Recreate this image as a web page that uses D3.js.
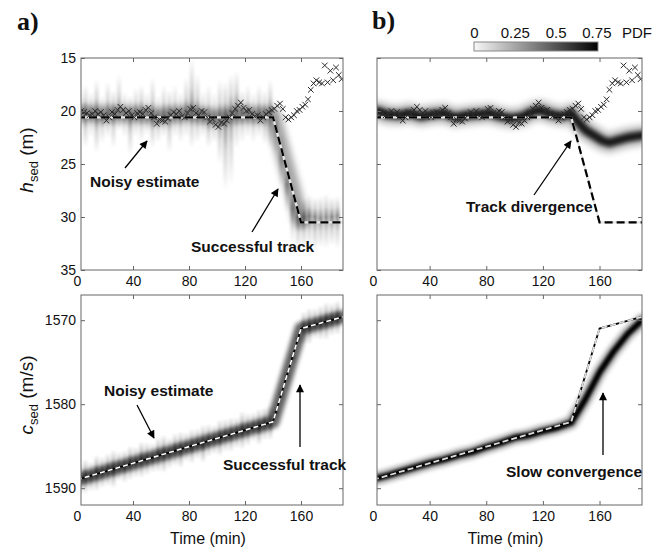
<!DOCTYPE html>
<html>
<head>
<meta charset="utf-8">
<script src="https://cdn.jsdelivr.net/npm/d3@7/dist/d3.min.js"></script>
<style>
  body { margin: 0; background: #fff; }
  svg { display: block; font-family: "Liberation Sans", Arial, Helvetica, sans-serif; }
  text { fill: #111; }
</style>
</head>
<body>
<div id="chart"></div>
<script>
// ---- values ----
var xTicks = [0, 40, 80, 120, 160];
var hTicks = [15, 20, 25, 30, 35];
var cTicks = [1570, 1580, 1590];
var pdfTicks = [0, 0.25, 0.5, 0.75];
var pdfMax = 0.76;

// true profile (dashed line)
var truthT = [0, 140, 160, 190];
var truthH = [20.6, 20.6, 30.5, 30.5];
var truthC = [1589.0, 1582.1, 1571.0, 1569.6];

// h_sed point estimates (crosses), same in a) and b)
var obsT = [3,5,7,9,11,13,15,17,19,21,23,25,27,29,31,33,35,37,39,41,43,45,47,49,51,53,55,57,59,61,
  63,65,67,69,71,73,75,77,79,81,83,85,87,89,91,93,95,97,99,101,103,105,107,109,111,113,115,117,119,121,
  123,125,127,129,131,133,135,137,139,141,143,145,147,149,151,153,155,157,159,161,163,165,167,169,171,173,175,177,179,181,
  183,185,187,189];
var obsH = [20.0,20.1,20.2,20.4,20.3,20.0,20.3,20.1,20.4,20.9,
  20.6,20.1,20.3,19.9,19.6,19.9,20.2,20.0,20.4,20.6,
  20.2,20.1,20.3,19.9,19.7,20.2,20.6,21.2,20.8,20.9,
  21.0,20.7,20.4,20.1,20.3,20.0,20.5,20.6,20.2,19.8,
  19.7,20.2,20.4,20.0,20.1,20.6,21.0,20.8,21.3,21.5,
  21.1,21.2,20.9,20.6,20.2,19.8,19.5,19.2,19.7,20.0,
  19.9,20.3,20.5,20.4,20.9,20.6,20.3,20.1,19.9,19.8,
  19.5,19.3,19.8,20.6,20.8,20.6,20.4,20.0,19.9,19.6,
  19.4,18.9,18.0,17.4,17.1,17.3,17.4,15.7,17.3,16.2,
  17.1,15.9,16.6,17.0];

// a) h_sed posterior, column streaks
var colT = [2,6,10,14,18,22,26,30,34,38,42,46,50,54,58,62,66,70,74,78,82,86,90,94,98,102,106,110,114,118,
  122,126,130,134,138,142,146,150,154,158,162,166,170,174,178,182,186];
var aHMid = [20.2,20.3,20.2,20.3,20.5,20.3,20.1,20.0,20.2,20.4,20.2,20.1,20.3,20.6,20.7,20.5,20.3,20.3,20.4,20.1,
  20.0,20.3,20.6,20.9,21.0,20.8,20.6,20.0,19.8,20.1,20.3,20.5,20.4,20.2,20.1,
  21.6,24.4,27.0,29.2,30.0, 30.0,29.9,30.0,30.1,30.0,30.0,29.9];
var aHTop = [18.0,17.5,18.2,17.0,18.5,17.2,18.0,16.5,18.2,18.5,17.8,17.5,18.2,16.8,18.5,17.5,18.0,17.5,18.2,16.8,
  15.0,16.5,18.0,17.5,18.2,17.0,17.2,16.5,16.2,18.0,17.5,18.2,17.5,18.0,17.0,
  19.8,22.0,24.5,26.8,28.0, 28.2,27.9,28.1,28.0,27.8,28.1,28.0];
var aHBot = [22.0,23.5,22.5,24.0,23.0,22.5,23.5,22.0,22.5,24.2,22.5,23.0,22.3,23.5,23.0,22.5,24.0,22.5,23.0,22.5,
  23.5,23.0,22.5,23.5,23.0,25.0,27.5,27.0,23.5,23.0,22.5,23.0,22.5,23.2,23.5,
  24.0,27.0,29.5,32.5,33.2, 33.0,32.8,33.2,32.9,33.0,32.7,33.0];
var aHPk = [.28,.32,.26,.34,.28,.3,.32,.28,.26,.32,.28,.3,.26,.32,.28,.3,.32,.26,.28,.3,
  .34,.32,.26,.3,.28,.32,.36,.32,.34,.3,.28,.26,.3,.28,.32,
  .2,.2,.22,.28,.34, .36,.34,.36,.35,.34,.36,.34];
// a) h_sed core band
var aHBandT = [2, 20, 40, 60, 80, 100, 120, 140, 160];
var aHBandV = [20.2, 20.3, 20.3, 20.5, 20.2, 20.6, 20.3, 20.4, 30.3];

// b) h_sed posterior band
var bHBandT = [3, 10, 18, 26, 34, 42, 50, 58, 66, 74, 82, 90, 98, 106, 112, 118, 126, 134, 140, 144, 150, 156, 162, 167, 172, 180, 190];
var bHBandV = [20.0, 20.3, 20.4, 20.2, 20.5, 20.3, 20.2, 20.6, 20.4, 20.3, 20.2, 20.5, 20.7, 20.5, 20.1, 19.9, 20.3, 20.5, 20.2, 20.9, 21.8, 22.3, 22.8, 23.0, 22.8, 22.5, 22.3];

// a) c_sed posterior, column streaks
var aCMid = [1588.9,1588.6,1588.6,1588.2,1588.1,1587.8,1587.7,1587.4,1587.4,1587.0,1586.9,1586.6,1586.5,1586.4,1586.0,
  1585.9,1585.8,1585.4,1585.4,1585.1,1585.0,1584.7,1584.7,1584.3,1584.2,1584.0,1583.7,1583.6,1583.4,1583.1,
  1583.0,1582.7,1582.7,1582.3,1582.2,1581.0,1578.8,1576.6,1574.4,1572.2,1570.9,1570.7,1570.4,1570.3,1570.1,1569.9,1569.7];
var aCSpread = [1.9,2.1,1.8,2.2,1.9,2.0,2.3,1.8,2.0,2.1,1.9,2.2,2.0,1.8,2.1,2.3,1.9,2.0,2.2,1.8,2.1,1.9,2.3,2.0,1.8,
  2.2,2.0,2.1,1.9,2.3,2.0,1.8,2.2,2.0,2.1, 0.8,0.8,0.8,0.8,0.8, 2.0,2.2,1.9,2.1,2.3,2.0,2.1];
var aCPk = [.42,.46,.4,.48,.42,.44,.48,.4,.44,.46,.42,.48,.44,.4,.46,.48,.42,.44,.48,.4,.46,.42,.48,.44,.4,
  .48,.44,.46,.42,.48,.44,.4,.48,.44,.46, .25,.25,.25,.25,.25, .44,.48,.42,.46,.48,.44,.46];
var aCBandT = [2, 140, 160, 190];
var aCBandV = [1588.9, 1582.1, 1571.0, 1569.6];

// b) c_sed posterior band
var bCBandT = [3, 10, 20, 30, 40, 50, 60, 70, 80, 90, 100, 110, 120, 130, 140, 150, 160, 170, 180, 190];
var bCBandV = [1588.8, 1588.5, 1588.0, 1587.5, 1587.0, 1586.6, 1586.1, 1585.7, 1585.1, 1584.6, 1584.0, 1583.7, 1583.2, 1582.8, 1582.2, 1579.4, 1576.2, 1573.7, 1571.6, 1570.0];

// ---- layout ----
var W = 668, H = 549;
var svg = d3.select("#chart").append("svg").attr("width", W).attr("height", H);
var defs = svg.append("defs");

var pdfOpacity = d3.scaleLinear().domain([0, pdfMax]).range([0, 1]).clamp(true);
var pdfColor = d3.scaleLinear().domain([0, pdfMax]).range(["#ffffff", "#000000"]);

function blurFilter(id, sx, sy) {
  defs.append("filter").attr("id", id)
    .attr("filterUnits", "userSpaceOnUse")
    .attr("x", 0).attr("y", 0).attr("width", W).attr("height", H)
    .append("feGaussianBlur").attr("stdDeviation", sx + " " + sy);
}
blurFilter("blurCol", 1.1, 0.6);
blurFilter("blur1", 1.4, 1.4);
blurFilter("blur2", 2, 2);
blurFilter("blur3", 3, 3);

defs.append("marker").attr("id", "arrow")
  .attr("viewBox", "0 0 10 10").attr("refX", 9).attr("refY", 5)
  .attr("markerUnits", "userSpaceOnUse")
  .attr("markerWidth", 10).attr("markerHeight", 8)
  .attr("orient", "auto")
  .append("path").attr("d", "M0,0L10,5L0,10z").attr("fill", "#000");

function makePanel(id, box, yDom) {
  var x = d3.scaleLinear().domain([0, 190]).range([box.x0 - 4, box.x1]);
  var y = d3.scaleLinear().domain(yDom).range([box.y0, box.y1]);
  defs.append("clipPath").attr("id", "clip-" + id).append("rect")
    .attr("x", box.x0).attr("y", box.y0)
    .attr("width", box.x1 - box.x0).attr("height", box.y1 - box.y0);
  var g = svg.append("g");
  var plot = g.append("g").attr("clip-path", "url(#clip-" + id + ")");
  return { id: id, box: box, x: x, y: y, g: g, plot: plot };
}

function drawColumns(p, T, mid, top, bot, pk, halfW) {
  var cg = p.plot.append("g").attr("filter", "url(#blurCol)");
  T.forEach(function (t, i) {
    var gid = p.id + "-col" + i;
    var y0 = p.y(top[i]), y1 = p.y(bot[i]);
    var m = (p.y(mid[i]) - y0) / (y1 - y0);
    var op = pdfOpacity(pk[i]);
    var grad = defs.append("linearGradient").attr("id", gid)
      .attr("x1", 0).attr("y1", 0).attr("x2", 0).attr("y2", 1);
    [[0, 0], [m * 0.55, 0.35], [m, 1], [m + (1 - m) * 0.45, 0.35], [1, 0]].forEach(function (s) {
      grad.append("stop").attr("offset", s[0])
        .attr("stop-color", "#000").attr("stop-opacity", s[1] * op);
    });
    cg.append("rect")
      .attr("x", p.x(t - halfW)).attr("width", p.x(t + halfW) - p.x(t - halfW))
      .attr("y", y0).attr("height", y1 - y0)
      .attr("fill", "url(#" + gid + ")");
  });
}

function drawBand(p, T, V, width, density, filter) {
  var line = d3.line().x(function (d, i) { return p.x(T[i]); }).y(function (d) { return p.y(d); });
  p.plot.append("path").attr("d", line(V))
    .attr("fill", "none").attr("stroke", "#000")
    .attr("stroke-opacity", pdfOpacity(density))
    .attr("stroke-width", width)
    .attr("stroke-linejoin", "round").attr("stroke-linecap", "round")
    .attr("filter", "url(#" + filter + ")");
}

function drawTruth(p, V, base, dash, dashArr, w) {
  var line = d3.line().x(function (d, i) { return p.x(truthT[i]); }).y(function (d) { return p.y(d); });
  p.plot.append("path").attr("d", line(V)).attr("fill", "none")
    .attr("stroke", base).attr("stroke-width", w);
  p.plot.append("path").attr("d", line(V)).attr("fill", "none")
    .attr("stroke", dash).attr("stroke-width", w).attr("stroke-dasharray", dashArr);
}

function drawCrosses(p) {
  p.plot.append("g").selectAll("path").data(obsH).enter().append("path")
    .attr("transform", function (d, i) { return "translate(" + p.x(obsT[i]) + "," + p.y(d) + ")"; })
    .attr("d", "M-2.8,-2.8L2.8,2.8M-2.8,2.8L2.8,-2.8")
    .attr("stroke", "#2a2a2a").attr("stroke-width", 1).attr("fill", "none");
}

function drawAxes(p, yTicks, showY) {
  var b = p.box, g = p.g;
  var ticksIn = xTicks.filter(function (t) { return t > 0; });
  g.append("g").attr("transform", "translate(0," + b.y1 + ")")
    .call(d3.axisBottom(p.x).tickValues(ticksIn).tickSize(-4).tickFormat(""));
  g.append("g").attr("transform", "translate(0," + b.y0 + ")")
    .call(d3.axisTop(p.x).tickValues(ticksIn).tickSize(-4).tickFormat(""));
  g.append("g").attr("transform", "translate(" + b.x0 + ",0)")
    .call(d3.axisLeft(p.y).tickValues(yTicks).tickSize(-4).tickFormat(""));
  g.append("g").attr("transform", "translate(" + b.x1 + ",0)")
    .call(d3.axisRight(p.y).tickValues(yTicks).tickSize(-4).tickFormat(""));
  var xl = g.append("g").attr("transform", "translate(0," + b.y1 + ")")
    .call(d3.axisBottom(p.x).tickValues(xTicks).tickSize(0).tickPadding(6).tickFormat(d3.format("d")));
  xl.selectAll("text").attr("font-size", 14).attr("fill", "#111")
    .style("font-family", '"Liberation Sans", Arial, sans-serif');
  if (showY) {
    var yl = g.append("g").attr("transform", "translate(" + b.x0 + ",0)")
      .call(d3.axisLeft(p.y).tickValues(yTicks).tickSize(0).tickPadding(5).tickFormat(d3.format("d")));
    yl.selectAll("text").attr("font-size", 14).attr("fill", "#111")
      .style("font-family", '"Liberation Sans", Arial, sans-serif');
  }
  g.selectAll(".domain").remove();
  g.selectAll(".tick line").attr("stroke", "#666");
  g.append("rect").attr("x", b.x0).attr("y", b.y0)
    .attr("width", b.x1 - b.x0).attr("height", b.y1 - b.y0)
    .attr("fill", "none").attr("stroke", "#666").attr("stroke-width", 1);
}

function note(txt, tx, ty, ax1, ay1, ax2, ay2, anchor) {
  svg.append("line").attr("x1", ax1).attr("y1", ay1).attr("x2", ax2).attr("y2", ay2)
    .attr("stroke", "#000").attr("stroke-width", 1.3).attr("marker-end", "url(#arrow)");
  svg.append("text").attr("x", tx).attr("y", ty)
    .attr("text-anchor", anchor || "start")
    .attr("font-size", 15.5).attr("font-weight", "bold").attr("fill", "#111")
    .text(txt);
}

// ---- panels ----
var pAH = makePanel("aH", { x0: 81, x1: 343, y0: 58, y1: 270 }, [15, 35]);
var pBH = makePanel("bH", { x0: 377, x1: 642, y0: 58, y1: 270 }, [15, 35]);
var pAC = makePanel("aC", { x0: 81, x1: 343, y0: 295, y1: 505 }, [1567, 1592]);
var pBC = makePanel("bC", { x0: 377, x1: 642, y0: 295, y1: 505 }, [1567, 1592]);

// a) h_sed
drawColumns(pAH, colT, aHMid, aHTop, aHBot, aHPk, 1.6);
drawBand(pAH, aHBandT, aHBandV, 16, 0.26, "blur3");
drawTruth(pAH, truthH, "#e6e6e6", "#000", "8,4", 2.2);
drawCrosses(pAH);
drawAxes(pAH, hTicks, true);

// b) h_sed
drawBand(pBH, bHBandT, bHBandV, 20, 0.2, "blur3");
drawBand(pBH, bHBandT, bHBandV, 9, 0.66, "blur2");
drawTruth(pBH, truthH, "#e6e6e6", "#000", "8,4", 2.2);
drawCrosses(pBH);
drawAxes(pBH, hTicks, false);

// a) c_sed
drawColumns(pAC, colT, aCMid,
  aCMid.map(function (m, i) { return m - aCSpread[i]; }),
  aCMid.map(function (m, i) { return m + aCSpread[i]; }), aCPk, 1.6);
drawBand(pAC, aCBandT, aCBandV, 13, 0.46, "blur2");
drawTruth(pAC, truthC, "#000", "#fff", "5,3", 1.6);
drawAxes(pAC, cTicks, true);

// b) c_sed
drawBand(pBC, bCBandT, bCBandV, 13, 0.26, "blur2");
drawBand(pBC, bCBandT, bCBandV, 6, 0.76, "blur1");
drawTruth(pBC, truthC, "#000", "#ddd", "6,3", 1.8);
drawAxes(pBC, cTicks, false);

// ---- axis titles ----
function yTitle(cx, cy, main, unit) {
  var t = svg.append("text").attr("transform", "translate(" + cx + "," + cy + ") rotate(-90)")
    .attr("text-anchor", "middle").attr("font-size", 19).attr("fill", "#111");
  t.append("tspan").attr("font-style", "italic").text(main);
  t.append("tspan").attr("font-size", 13).attr("dy", 5).text("sed");
  t.append("tspan").attr("dy", -5).text(" " + unit);
}
yTitle(33, 160, "h", "(m)");
yTitle(33, 395, "c", "(m/s)");

[pAC, pBC].forEach(function (p) {
  svg.append("text").attr("x", (p.x(0) + p.box.x1) / 2 - 2).attr("y", 544)
    .attr("text-anchor", "middle").attr("font-size", 16).text("Time (min)");
});

svg.append("text").attr("x", 17).attr("y", 30).attr("font-size", 26).attr("font-weight", "bold")
  .style("font-family", '"Liberation Serif", "Times New Roman", serif').text("a)");
svg.append("text").attr("x", 372).attr("y", 29).attr("font-size", 26).attr("font-weight", "bold")
  .style("font-family", '"Liberation Serif", "Times New Roman", serif').text("b)");

// ---- colour bar ----
var cbX = d3.scaleLinear().domain([0, pdfMax]).range([474, 598]);
var cbGrad = defs.append("linearGradient").attr("id", "cbGrad");
cbGrad.append("stop").attr("offset", 0).attr("stop-color", pdfColor(0.02));
cbGrad.append("stop").attr("offset", 1).attr("stop-color", pdfColor(pdfMax));
svg.append("rect").attr("x", cbX(0)).attr("y", 42).attr("width", cbX(pdfMax) - cbX(0)).attr("height", 9)
  .attr("fill", "url(#cbGrad)").attr("stroke", "#888").attr("stroke-width", 1);
var cbAxis = svg.append("g").attr("transform", "translate(0,42)")
  .call(d3.axisTop(cbX).tickValues(pdfTicks).tickSize(0).tickPadding(4)
    .tickFormat(function (d) { return String(d); }));
cbAxis.select(".domain").remove();
cbAxis.selectAll("text").attr("font-size", 15).attr("fill", "#111")
  .style("font-family", '"Liberation Sans", Arial, sans-serif');
svg.append("text").attr("x", 622).attr("y", 38).attr("font-size", 15).text("PDF");

// ---- annotations ----
note("Noisy estimate", 90, 187, 125, 168, 147, 141);
note("Successful track", 191, 252, 252, 232, 278, 189);
note("Track divergence", 466, 212, 534, 195, 571, 141);
note("Noisy estimate", 104, 396, 137, 405, 154, 438);
note("Successful track", 223, 470, 300, 447, 300, 385);
note("Slow convergence", 506, 477, 603, 455, 603, 393);
</script>
</body>
</html>
